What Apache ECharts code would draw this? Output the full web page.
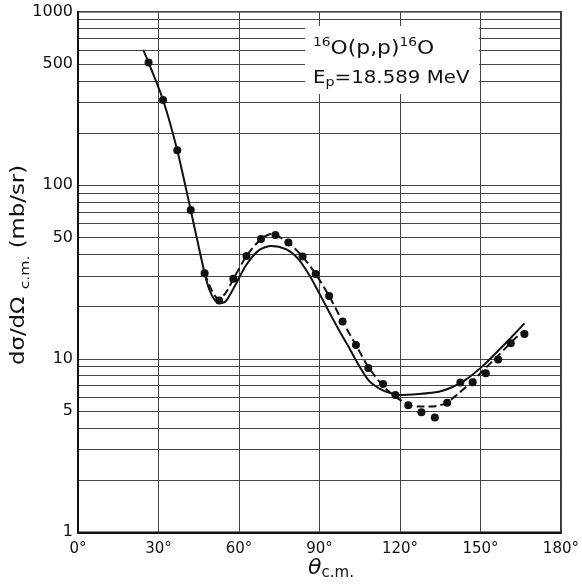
<!DOCTYPE html>
<html>
<head>
<meta charset="utf-8">
<script src="https://cdn.jsdelivr.net/npm/echarts@6/dist/echarts.min.js"></script>
<style>
  html, body { margin: 0; padding: 0; background: #fff; }
  #chart { width: 582px; height: 587px; }
</style>
</head>
<body>
<div id="chart"></div>
<script>
// measured points, 16O(p,p)16O at 18.589 MeV
const dataAngles = [26.3, 31.7, 37.0, 42.0, 47.2, 52.6, 57.9, 62.8, 68.2, 73.6, 78.4, 83.7, 88.6, 93.6, 98.6,
  103.6, 108.2, 113.7, 118.3, 123.1, 128.0, 133.0, 137.6, 142.5, 147.1, 152.0, 156.6, 161.3, 166.4]
const dataValues = [509, 310, 159, 72, 31.1, 21.7, 28.9, 39.1, 49.0, 51.7, 46.7, 38.8, 30.8, 23.0, 16.4,
  12.0, 8.85, 7.16, 6.18, 5.40, 4.92, 4.58, 5.58, 7.30, 7.33, 8.26, 9.89, 12.3, 13.9]

// solid fit curve
const solidAngles = [24.3, 26.3, 31.7, 37.0, 42.0, 47.2, 49.0, 51.0, 52.8, 55.0, 58.3, 62.7, 67.6, 72.0, 77.5,
  82.0, 86.2, 89.9, 93.6, 97.3, 101.0, 104.8, 108.5, 112.2, 115.9, 119.6, 127.0, 134.5, 139.4, 144.4,
  150.6, 156.8, 161.7, 166.4]
const solidValues = [602, 509, 310, 159, 72, 31.1, 24.9, 21.8, 20.9, 21.4, 26.0, 34.7, 42.4, 44.7, 42.8,
  37.8, 30.4, 23.9, 18.6, 14.6, 11.6, 9.1, 7.45, 6.76, 6.38, 6.18, 6.27, 6.46, 6.85, 7.55,
  9.01, 11.2, 13.4, 16.0]

// dashed fit curve
const dashAngles = [47.2, 49.8, 52.4, 55.0, 57.9, 62.8, 68.2, 72.1, 78.4, 83.7, 88.6, 93.6, 98.6, 103.6,
  108.2, 113.7, 118.4, 123.3, 127.0, 132.0, 137.0, 141.9, 146.8, 151.8, 156.8, 161.7, 165.7]
const dashValues = [31.1, 24.9, 22.0, 23.9, 28.8, 39.1, 49.0, 52.4, 46.7, 38.8, 30.8, 23.0, 16.4, 12.0,
  8.97, 6.97, 6.03, 5.42, 5.30, 5.30, 5.54, 6.33, 7.38, 8.82, 10.5, 12.55, 14.3]

// axis ticks
const yLabelValues = [1, 5, 10, 50, 100, 500, 1000]
const yGridValues = [1, 2, 3, 4, 5, 6, 7, 8, 9, 10, 20, 30, 40, 50, 60, 70, 80, 90,
  100, 200, 300, 400, 500, 600, 700, 800, 900, 1000]

const ink = '#111'
const font = 'DejaVu Sans'

const zip = (xs, ys) => xs.map((x, i) => [x, ys[i]])

const chart = echarts.init(document.getElementById('chart'), null, { renderer: 'canvas' })

chart.setOption({
  animation: false,
  backgroundColor: '#fff',
  grid: {
    left: 78,
    right: 19.5,
    top: 11.7,
    bottom: 54.7,
    show: true,
    borderColor: ink,
    borderWidth: 1.5
  },
  xAxis: {
    type: 'value',
    min: 0,
    max: 180,
    interval: 30,
    axisLine: { lineStyle: { color: ink, width: 2 } },
    axisTick: { show: false },
    axisLabel: {
      formatter: '{value}°',
      color: ink,
      fontFamily: font,
      fontSize: 15,
      margin: 9
    },
    splitLine: { lineStyle: { color: '#444', width: 1 } }
  },
  yAxis: {
    type: 'log',
    logBase: 10,
    min: 1,
    max: 1000,
    axisLine: { lineStyle: { color: ink, width: 2 } },
    axisTick: { show: false, customValues: yGridValues },
    axisLabel: {
      customValues: yLabelValues,
      formatter: v => String(Math.round(v)),
      color: ink,
      fontFamily: font,
      fontSize: 16,
      margin: 5
    },
    splitLine: { lineStyle: { color: '#444', width: 1 } }
  },
  graphic: [
    {
      type: 'rect',
      shape: { x: 305, y: 26, width: 174, height: 68 },
      style: { fill: '#fff' },
      z: 10
    },
    {
      type: 'text',
      x: 313,
      y: 37,
      scaleX: 1.15,
      z: 11,
      style: {
        text: '{s|16}{m|O(p,p)}{s|16}{m|O}',
        fill: ink,
        rich: {
          s: { fontFamily: font, fontSize: 12, verticalAlign: 'top', fill: ink, lineHeight: 22 },
          m: { fontFamily: font, fontSize: 19, verticalAlign: 'bottom', fill: ink, lineHeight: 22 }
        }
      }
    },
    {
      type: 'text',
      x: 313,
      y: 69,
      scaleX: 1.1,
      z: 11,
      style: {
        text: '{m|E}{s|p}{m|=18.589 MeV}',
        fill: ink,
        rich: {
          m: { fontFamily: font, fontSize: 18, verticalAlign: 'top', fill: ink, lineHeight: 20 },
          s: { fontFamily: font, fontSize: 13, verticalAlign: 'bottom', fill: ink, lineHeight: 20 }
        }
      }
    },
    {
      type: 'text',
      x: 21,
      y: 265,
      rotation: Math.PI / 2,
      scaleX: 1.2,
      style: {
        text: '{m|dσ/dΩ }{s|c.m.}{m| (mb/sr)}',
        align: 'center',
        verticalAlign: 'middle',
        fill: ink,
        rich: {
          m: { fontFamily: font, fontSize: 19, verticalAlign: 'top', fill: ink, lineHeight: 22 },
          s: { fontFamily: font, fontSize: 13, verticalAlign: 'bottom', fill: ink, lineHeight: 22 }
        }
      }
    },
    {
      type: 'text',
      x: 331,
      y: 569,
      style: {
        text: '{t|θ}{s|c.m.}',
        align: 'center',
        verticalAlign: 'middle',
        fill: ink,
        rich: {
          t: { fontFamily: font, fontSize: 22, fontStyle: 'italic', verticalAlign: 'top', fill: ink, lineHeight: 24 },
          s: { fontFamily: font, fontSize: 15, verticalAlign: 'bottom', fill: ink, lineHeight: 24 }
        }
      }
    }
  ],
  series: [
    {
      name: 'fit',
      type: 'line',
      data: zip(solidAngles, solidValues),
      smooth: 0.25,
      showSymbol: false,
      lineStyle: { color: ink, width: 2 },
      z: 3
    },
    {
      name: 'fit2',
      type: 'line',
      data: zip(dashAngles, dashValues),
      smooth: 0.25,
      showSymbol: false,
      lineStyle: { color: ink, width: 2, type: [8, 4] },
      z: 3
    },
    {
      name: 'data',
      type: 'scatter',
      data: zip(dataAngles, dataValues),
      symbol: 'circle',
      symbolSize: 8,
      itemStyle: { color: ink, opacity: 1 },
      z: 4
    }
  ]
})
</script>
</body>
</html>
